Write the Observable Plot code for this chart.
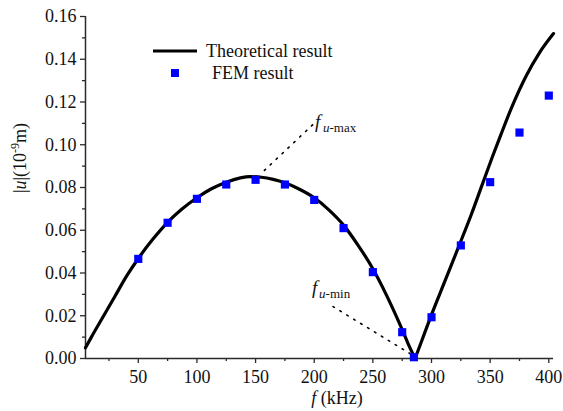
<!DOCTYPE html>
<html>
<head>
<meta charset="utf-8">
<script src="https://cdn.jsdelivr.net/npm/d3@7"></script>
<script src="https://cdn.jsdelivr.net/npm/@observablehq/plot@0.6"></script>
<style>
  html, body { margin: 0; padding: 0; background: #fff; }
  #chart { width: 563px; height: 411px; }
</style>
</head>
<body>
<div id="chart"></div>
<script>
// ---- data ----
const xDomain = [5, 404];
const yDomain = [0, 0.16];

// Theoretical curve, left branch (up to the minimum) and right branch
const theoLeftF = [5, 10, 20, 30, 40, 50, 62, 75, 87, 100, 112, 125, 137, 145, 155, 165, 175, 187, 200, 212, 225, 237, 250, 262, 275, 280, 286];
const theoLeftU = [0.005, 0.010, 0.0195, 0.029, 0.0385, 0.0468, 0.0555, 0.0637, 0.0698, 0.0752, 0.0793, 0.0825, 0.0845, 0.0851, 0.0848, 0.0838, 0.0822, 0.0793, 0.0752, 0.0698, 0.0624, 0.0533, 0.0420, 0.0292, 0.0135, 0.0070, 0.0];
const theoRightF = [286, 292, 300, 312, 324, 334, 343, 352, 359, 368, 381, 392, 404];
const theoRightU = [0.0, 0.0088, 0.0205, 0.037, 0.0535, 0.0675, 0.081, 0.0945, 0.1045, 0.117, 0.1325, 0.143, 0.152];

// FEM result
const femF = [50, 75, 100, 125, 150, 175, 200, 225, 250, 275, 285, 300, 325, 350, 375, 400];
const femU = [0.0466, 0.0635, 0.0747, 0.0814, 0.0836, 0.0814, 0.0742, 0.061, 0.0404, 0.0123, 0.0006, 0.0193, 0.0529, 0.0825, 0.1057, 0.123];

// ticks
const xMajor = [50, 100, 150, 200, 250, 300, 350, 400];
const xMinor = [25, 75, 125, 175, 225, 275, 325, 375];
const yMajor = [0, 0.02, 0.04, 0.06, 0.08, 0.10, 0.12, 0.14, 0.16];
const yMinor = [0.01, 0.03, 0.05, 0.07, 0.09, 0.11, 0.13, 0.15];

// annotations
const maxLeader = [[157.5, 0.088], [199, 0.1095]];
const maxLabelAt = [[200.7, 0.108]];
const minLeader = [[216, 0.0243], [281.6, 0.0023]];
const minLabelAt = [[198.2, 0.0304]];

// ---- build tables ----
const theo = [
  ...theoLeftF.map((f, i) => ({f, u: theoLeftU[i], branch: "L"})),
  ...theoRightF.map((f, i) => ({f, u: theoRightU[i], branch: "R"}))
];
const fem = femF.map((f, i) => ({f, u: femU[i]}));

const serif = "Liberation Serif";
const axisColor = "#2a2a2a";
const ink = "#111";

const plot = Plot.plot({
  width: 563,
  height: 411,
  marginLeft: 85,
  marginRight: 10,
  marginTop: 16,
  marginBottom: 53,
  x: {domain: xDomain},
  y: {domain: yDomain},
  style: {fontFamily: serif, fontSize: "18px", background: "#fff", color: ink},
  marks: [
    Plot.axisX(xMajor, {tickSize: 5, tickPadding: 7, tickFormat: d => String(d), label: null, stroke: axisColor, strokeWidth: 1.3, fontSize: 18}),
    Plot.axisX(xMinor, {tickSize: 3, tickFormat: () => "", label: null, stroke: axisColor, strokeWidth: 1.3}),
    Plot.axisY(yMajor, {tickSize: 5, tickPadding: 4, tickFormat: d3.format(".2f"), label: null, stroke: axisColor, strokeWidth: 1.3, fontSize: 18}),
    Plot.axisY(yMinor, {tickSize: 3, tickFormat: () => "", label: null, stroke: axisColor, strokeWidth: 1.3}),
    Plot.ruleY([yDomain[0]], {stroke: axisColor, strokeWidth: 1.5}),
    Plot.ruleX([xDomain[0]], {stroke: axisColor, strokeWidth: 1.5}),
    // leaders
    Plot.line(maxLeader, {x: d => d[0], y: d => d[1], stroke: "#000", strokeWidth: 1.6, strokeDasharray: "1.6,6.5", strokeLinecap: "round"}),
    Plot.line(minLeader, {x: d => d[0], y: d => d[1], stroke: "#000", strokeWidth: 1.6, strokeDasharray: "1.6,6.5", strokeLinecap: "round"}),
    // theoretical curve
    Plot.line(theo, {x: "f", y: "u", z: "branch", curve: "monotone-x", stroke: "#000", strokeWidth: 3.2, strokeLinejoin: "round", strokeLinecap: "round"}),
    // FEM
    Plot.dot(fem, {x: "f", y: "u", symbol: "square", r: 4.6, fill: "#0000ff", stroke: "none"}),
    // f_u-max label
    Plot.text(maxLabelAt, {x: d => d[0], y: d => d[1], text: () => "f", fontStyle: "italic", fontSize: 19, textAnchor: "start", lineAnchor: "bottom", fill: ink}),
    Plot.text(maxLabelAt, {x: d => d[0], y: d => d[1], text: () => "u", fontStyle: "italic", fontSize: 13, textAnchor: "start", lineAnchor: "bottom", dx: 8, dy: 4, fill: ink}),
    Plot.text(maxLabelAt, {x: d => d[0], y: d => d[1], text: () => "-max", fontSize: 13, textAnchor: "start", lineAnchor: "bottom", dx: 14.5, dy: 4, fill: ink}),
    // f_u-min label
    Plot.text(minLabelAt, {x: d => d[0], y: d => d[1], text: () => "f", fontStyle: "italic", fontSize: 19, textAnchor: "start", lineAnchor: "bottom", fill: ink}),
    Plot.text(minLabelAt, {x: d => d[0], y: d => d[1], text: () => "u", fontStyle: "italic", fontSize: 13, textAnchor: "start", lineAnchor: "bottom", dx: 7, dy: 4, fill: ink}),
    Plot.text(minLabelAt, {x: d => d[0], y: d => d[1], text: () => "-min", fontSize: 13, textAnchor: "start", lineAnchor: "bottom", dx: 13.5, dy: 4, fill: ink})
  ]
});

document.getElementById("chart").appendChild(plot);

// ---- titles and legend ----
const svg = d3.select(plot);

// y title
const yt = svg.append("text")
  .attr("transform", "translate(26,158) rotate(-90)")
  .attr("text-anchor", "middle")
  .attr("font-size", 18)
  .attr("fill", ink);
yt.append("tspan").text("|");
yt.append("tspan").attr("font-style", "italic").text("u");
yt.append("tspan").text("|(10");
yt.append("tspan").attr("dy", -7).attr("font-size", 12).text("-9");
yt.append("tspan").attr("dy", 7).text("m)");

// x title
const xt = svg.append("text")
  .attr("x", 337).attr("y", 404)
  .attr("text-anchor", "middle")
  .attr("font-size", 18)
  .attr("fill", ink);
xt.append("tspan").attr("font-style", "italic").text("f");
xt.append("tspan").text(" (kHz)");

// legend
const lg = svg.append("g").attr("font-size", 18).attr("fill", ink).attr("text-anchor", "start");
lg.append("line").attr("x1", 153).attr("x2", 197).attr("y1", 51).attr("y2", 51)
  .attr("stroke", "#000").attr("stroke-width", 3.2);
lg.append("text").attr("x", 206).attr("y", 57).text("Theoretical result");
lg.append("rect").attr("x", 171).attr("y", 69).attr("width", 8).attr("height", 8).attr("fill", "#0000ff");
lg.append("text").attr("x", 212).attr("y", 79).text("FEM result");

// make sure every text uses the serif face
svg.selectAll("text, tspan").style("font-family", "'Liberation Serif', 'Times New Roman', serif");
</script>
</body>
</html>
